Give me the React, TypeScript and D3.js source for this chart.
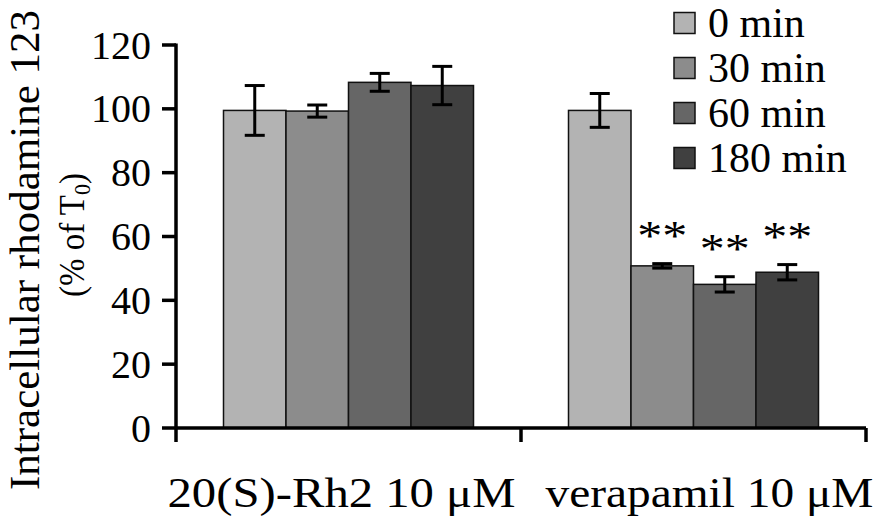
import React from "react";
import * as d3 from "d3";

// categories and series
const groups = ["20(S)-Rh2 10 μM", "verapamil 10 μM"];
const series = ["0 min", "30 min", "60 min", "180 min"];
const colors = ["#b3b3b3", "#8c8c8c", "#666666", "#404040"];

// mean values (% of T0) per group, one entry per series
const rh2Values = [99.5, 99.3, 108.3, 107.3];
const rh2Errors = [7.8, 1.9, 2.8, 6.0];
const verValues = [99.5, 50.8, 45.0, 48.8];
const verErrors = [5.3, 0.7, 2.4, 2.4];
const verSig = ["", "**", "**", "**"];
const rh2Sig = ["", "", "", ""];

const yTicks = [0, 20, 40, 60, 80, 100, 120];

const FONT = "'Liberation Serif', 'Times New Roman', serif";

export default function App() {
  const width = 880;
  const height = 517;
  const marginLeft = 176;
  const marginRight = 14;
  const marginTop = 45;
  const axisY = 428;

  const table = groups.map((g, i) => ({
    group: g,
    values: i === 0 ? rh2Values : verValues,
    errors: i === 0 ? rh2Errors : verErrors,
    sig: i === 0 ? rh2Sig : verSig,
  }));

  // outer scale for groups
  const x0 = d3.scaleBand()
    .domain(groups)
    .range([marginLeft, width - marginRight])
    .padding(0);

  // inner scale for time points
  const x1 = d3.scaleBand()
    .domain(series)
    .range([0, x0.bandwidth()])
    .paddingInner(0)
    .paddingOuter(0.76);

  const y = d3.scaleLinear()
    .domain([0, 120])
    .range([axisY, marginTop]);

  const labelShift = [-7, 16];

  return (
    <svg
      width={width}
      height={height}
      style={{ position: "absolute", left: 0, top: 0, background: "#fff" }}
      fontFamily={FONT}
    >
      {/* bars */}
      {table.map((d) => (
        <g key={d.group} transform={`translate(${x0(d.group)},0)`}>
          {d.values.map((v, i) => (
            <rect
              key={i}
              x={x1(series[i])}
              y={y(v)}
              width={x1.bandwidth()}
              height={y(0) - y(v)}
              fill={colors[i]}
              stroke="#111"
              strokeWidth={1.5}
            />
          ))}
          {/* error bars */}
          {d.values.map((v, i) => {
            const cx = (x1(series[i]) as number) + x1.bandwidth() / 2;
            const e = d.errors[i];
            return (
              <g key={"e" + i} stroke="#000" strokeWidth={3}>
                <line x1={cx} x2={cx} y1={y(v + e)} y2={y(v - e)} />
                <line x1={cx - 10} x2={cx + 10} y1={y(v + e)} y2={y(v + e)} />
                <line x1={cx - 10} x2={cx + 10} y1={y(v - e)} y2={y(v - e)} />
              </g>
            );
          })}
          {/* significance marks */}
          {d.values.map((v, i) =>
            d.sig[i] ? (
              <text
                key={"s" + i}
                x={(x1(series[i]) as number) + x1.bandwidth() / 2}
                y={y(v + d.errors[i]) - 14}
                textAnchor="middle"
                fontSize={42}
                textLength={50}
                lengthAdjust="spacingAndGlyphs"
              >
                {d.sig[i]}
              </text>
            ) : null
          )}
        </g>
      ))}

      {/* y axis */}
      <g stroke="#000" strokeWidth={3.5}>
        <line x1={marginLeft} x2={marginLeft} y1={marginTop - 1.5} y2={axisY + 14} />
        {yTicks.map((t) => (
          <line key={t} x1={marginLeft - 14} x2={marginLeft} y1={y(t)} y2={y(t)} />
        ))}
      </g>
      {yTicks.map((t) => (
        <text key={t} x={151} y={y(t) + 13.5} textAnchor="end" fontSize={40}>
          {t}
        </text>
      ))}

      {/* x axis */}
      <g stroke="#000" strokeWidth={3.5}>
        <line x1={marginLeft} x2={width - marginRight} y1={axisY} y2={axisY} />
        {groups.map((g) => (
          <line
            key={g}
            x1={(x0(g) as number) + x0.bandwidth()}
            x2={(x0(g) as number) + x0.bandwidth()}
            y1={axisY}
            y2={axisY + 14}
          />
        ))}
      </g>
      {groups.map((g, i) => (
        <text
          key={g}
          x={(x0(g) as number) + x0.bandwidth() / 2 + labelShift[i]}
          y={507}
          textAnchor="middle"
          fontSize={42}
          textLength={i === 0 ? 348 : 328}
          lengthAdjust="spacingAndGlyphs"
        >
          {g}
        </text>
      ))}

      {/* y axis title */}
      <text
        transform="translate(39,250) rotate(-90)"
        textAnchor="middle"
        fontSize={42}
        textLength={480}
        lengthAdjust="spacingAndGlyphs"
      >
        Intracellular rhodamine 123
      </text>
      <text
        transform="translate(84,235) rotate(-90)"
        textAnchor="middle"
        fontSize={36}
        textLength={124}
        lengthAdjust="spacingAndGlyphs"
      >
        (% of T<tspan fontSize={24} dy={6}>0</tspan>
        <tspan dy={-6}>)</tspan>
      </text>

      {/* legend */}
      {series.map((s, i) => (
        <g key={s} transform={`translate(674,${23 + i * 45})`}>
          <rect x={0} y={-10.5} width={21} height={21} fill={colors[i]} stroke="#111" strokeWidth={1.5} />
          <text x={34} y={14} fontSize={42}>
            {s}
          </text>
        </g>
      ))}
    </svg>
  );
}
